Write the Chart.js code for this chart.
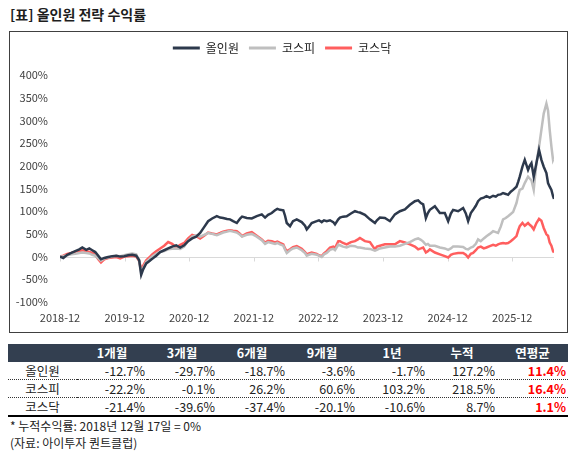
<!DOCTYPE html>
<html><head><meta charset="utf-8">
<script src="https://cdn.jsdelivr.net/npm/chart.js@4.4.1/dist/chart.umd.min.js"></script>
<style>
body{margin:0;width:576px;height:456px;background:#fff;font-family:'Noto Sans CJK KR','Noto Sans',sans-serif;color:#222;position:relative;overflow:hidden}
#title{position:absolute;left:10px;top:4px;font-size:14px;font-weight:bold;line-height:20px;color:#1e1e1e}
#box{position:absolute;left:9px;top:31px;width:557px;height:300px;border:1px solid #404040}
#wrap{position:relative;width:557px;height:300px}
#tbl{position:absolute;left:8px;top:344px;border-collapse:collapse;font-size:12.5px;table-layout:fixed}
#tbl th{background:#333F50;color:#fff;font-weight:bold;height:18px;padding:0;text-align:center;line-height:18px}
#tbl td{height:17px;padding:0 2px 0 0;text-align:right;line-height:17px;color:#222}
#tbl td.lab{text-align:center;padding:0}
#tbl tr.r td{border-bottom:1px dotted #333}
#tbl tr.last td{border-bottom:2px solid #000}
#tbl td.avg{color:#FF0000;font-weight:bold}
.note{position:absolute;left:10px;font-size:12px;line-height:16px;color:#222}
</style></head>
<body>
<div id="title">[표] 올인원 전략 수익률</div>
<div id="box"><div id="wrap"><canvas id="c"></canvas></div></div>
<table id="tbl"></table>
<div class="note" style="top:418px">* 누적수익률: 2018년 12월 17일 = 0%</div>
<div class="note" style="top:435px">(자료: 아이투자 퀀트클럽)</div>
<script>
// months since 2018-12-17
const months = [0,0.61,1.35,2.10,2.84,3.58,4.14,4.88,5.44,5.99,6.55,7.11,7.61,8.22,8.96,9.70,10.45,11.19,11.93,12.67,13.41,14.16,14.71,15.08,15.45,16.02,16.57,17.13,17.87,18.61,19.35,20.09,20.83,21.58,22.32,23.06,23.80,24.55,25.29,26.03,26.77,27.51,28.26,29.13,29.74,30.30,31.04,31.58,32.15,32.84,33.45,33.82,34.69,35.62,36.55,37.48,38.09,38.65,39.33,39.94,40.37,40.87,41.48,41.80,42.12,42.73,43.28,43.97,44.90,45.51,45.83,46.25,46.75,47.68,48.11,48.61,49.04,49.54,50.15,50.76,51.08,51.69,52.00,52.56,53.25,54.04,54.79,55.34,55.71,56.64,57.57,58.50,58.87,59.42,60.35,61.28,62.21,63.14,64.07,65.00,65.92,66.53,67.03,67.46,67.96,68.33,68.70,69.63,70.56,71.48,72.10,72.60,73.02,73.95,74.88,75.38,75.81,76.31,76.74,77.24,77.66,78.16,78.72,79.22,79.83,80.45,80.95,81.37,81.87,82.30,82.80,83.23,83.73,84.16,84.79,85.12,85.40,85.90,86.33,86.94,87.25,87.57,87.99,88.50,88.98,89.42,89.85,90.35,90.65,90.96,91.28,91.58,91.76];
const allInOne = [0,-3,4,8,12,16,20,15,18,14,10,2,-6,-3,-1,1,2,0,1,3,4,2,-8,-40,-28,-15,-10,-5,2,10,14,18,22,25,20,25,34,40,44,52,65,78,84,89,86,85,83,82,78,74,84,88,85,84,89,93,86,92,96,102,105,103,102,90,74,67,78,82,76,68,60,66,74,78,80,76,80,78,80,76,71,82,86,88,89,95,100,98,97,92,82,74,80,86,85,78,93,100,104,114,122,124,118,115,85,96,103,111,96,96,78,95,103,100,107,95,78,96,103,112,122,128,130,133,130,134,132,136,137,140,138,136,143,147,154,165,176,198,213,191,200,206,176,206,235,213,198,184,162,154,147,133,127];
const kospi = [0,1,3,5,6,8,9,8,7,4,2,-4,-9,-4,-2,0,2,1,3,5,7,5,-10,-35,-25,-12,-6,0,6,10,12,16,17,18,17,22,35,44,47,44,48,52,50,47,50,53,55,57,55,53,48,44,48,50,44,36,28,32,30,28,30,27,24,15,8,14,18,20,14,8,2,4,6,4,2,-1,5,8,15,17,14,26,25,22,20,24,23,20,20,18,17,13,15,18,20,22,22,24,28,32,38,40,37,33,26,28,24,24,20,18,15,18,22,22,21,17,16,20,22,28,38,34,40,45,50,56,54,52,66,82,85,89,94,98,118,135,147,150,162,176,172,168,147,206,242,279,315,337,322,279,242,213,218];
const kosdaq = [0,2,6,8,11,12,14,12,10,8,4,-6,-13,-6,-3,-2,-1,-4,0,1,2,0,-10,-28,-20,-8,-2,5,12,18,24,32,28,20,26,30,40,48,45,40,46,53,51,49,52,55,57,58,57,56,50,45,51,54,46,38,31,35,34,31,33,30,27,18,12,16,21,23,17,10,5,7,9,6,3,1,7,12,20,22,19,34,34,30,27,32,34,38,41,34,32,16,22,24,27,27,27,34,31,27,22,16,18,20,9,12,16,9,5,1,-2,4,6,8,8,4,-2,6,8,14,20,22,18,20,23,26,24,27,29,30,29,30,34,38,45,58,67,74,68,74,70,67,60,74,83,79,63,49,46,31,24,12,9];
const seriesNames = ['올인원','코스피','코스닥'];
const tickMonths = [0,12,24,36,48,60,72,84];
const tickLabels = ['2018-12','2019-12','2020-12','2021-12','2022-12','2023-12','2024-12','2025-12'];

// table data
const periods = ['1개월','3개월','6개월','9개월','1년','누적','연평균'];
const rowNames = ['올인원','코스피','코스닥'];
const retAllInOne = [-12.7,-29.7,-18.7,-3.6,-1.7,127.2,11.4];
const retKospi = [-22.2,-0.1,26.2,60.6,103.2,218.5,16.4];
const retKosdaq = [-21.4,-39.6,-37.4,-20.1,-10.6,8.7,1.1];

// build table
(function(){
  const t = document.getElementById('tbl');
  const widths = [69,70,70,70,70,70,70,71];
  let cg = '<colgroup>' + widths.map(w=>'<col style="width:'+w+'px">').join('') + '</colgroup>';
  let h = '<tr><th></th>' + periods.map(p=>'<th>'+p+'</th>').join('') + '</tr>';
  const rows = [retAllInOne, retKospi, retKosdaq];
  rows.forEach((r,i)=>{
    h += '<tr class="'+(i<rows.length-1?'r':'last')+'"><td class="lab">'+rowNames[i]+'</td>' +
      r.map((v,j)=>'<td'+(j===r.length-1?' class="avg"':'')+'>'+v.toFixed(1)+'%</td>').join('') + '</tr>';
  });
  t.innerHTML = cg + h;
})();

const zeroAxis = {
  id:'zeroAxis',
  beforeDatasetsDraw(chart){
    const {ctx, chartArea:a, scales:{x,y}} = chart;
    const y0 = Math.round(y.getPixelForValue(0)) + 0.5;
    ctx.save();
    ctx.strokeStyle = '#D9D9D9'; ctx.lineWidth = 1;
    ctx.beginPath(); ctx.moveTo(a.left,y0); ctx.lineTo(a.right,y0);
    tickMonths.forEach(m=>{ const px = Math.round(x.getPixelForValue(m)) + 0.5; ctx.moveTo(px,y0); ctx.lineTo(px,y0+4); });
    ctx.stroke(); ctx.restore();
  }
};
const legendSpacer = {
  id:'legendSpacer',
  beforeInit(chart){
    const fit = chart.legend.fit;
    chart.legend.fit = function(){ fit.call(this); this.height += 11; };
  }
};

const toPts = arr => arr.map((v,i)=>({x:months[i], y:v}));
Chart.defaults.font.family = "'Noto Sans CJK KR','Noto Sans',sans-serif";
Chart.defaults.color = '#404040';

new Chart(document.getElementById('c'), {
  type:'line',
  data:{
    datasets:[
      {label:seriesNames[0], data:toPts(allInOne), borderColor:'#2D394C', backgroundColor:'#2D394C', borderWidth:2.5, pointRadius:0, tension:0},
      {label:seriesNames[1], data:toPts(kospi), borderColor:'#BFBFBF', backgroundColor:'#BFBFBF', borderWidth:2.5, pointRadius:0, tension:0},
      {label:seriesNames[2], data:toPts(kosdaq), borderColor:'#FF5E5E', backgroundColor:'#FF5E5E', borderWidth:2.5, pointRadius:0, tension:0}
    ]
  },
  options:{
    responsive:true, maintainAspectRatio:false, animation:false,
    layout:{padding:{top:0,left:0,right:13,bottom:0}},
    plugins:{
      tooltip:{enabled:false},
      legend:{
        position:'top', align:'center',
        labels:{
          boxWidth:27, boxHeight:3, padding:10, color:'#222', font:{size:12},
          generateLabels(chart){
            return Chart.defaults.plugins.legend.labels.generateLabels(chart).map(l=>Object.assign(l,{fillStyle:l.strokeStyle, lineWidth:0}));
          }
        }
      }
    },
    scales:{
      x:{
        type:'linear', min:0, max:months[months.length-1],
        afterBuildTicks(s){ s.ticks = tickMonths.map(v=>({value:v})); },
        afterFit(s){ s.height = 30; },
        ticks:{autoSkip:false, maxRotation:0, padding:9, font:{size:11}, color:'#404040',
          callback:(v,i)=>tickLabels[i]},
        grid:{display:false, drawTicks:false},
        border:{display:false}
      },
      y:{
        min:-100, max:400,
        afterFit(s){ s.width = 50; },
        ticks:{stepSize:50, padding:12, font:{size:11}, color:'#404040', callback:v=>v+'%'},
        grid:{display:false, drawTicks:false},
        border:{display:false}
      }
    }
  },
  plugins:[zeroAxis, legendSpacer]
});
</script>
</body></html>
